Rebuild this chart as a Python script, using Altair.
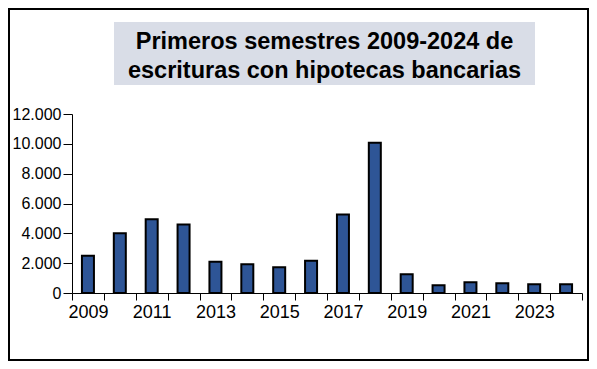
import altair as alt
import pandas as pd

years = ["2009", "2010", "2011", "2012", "2013", "2014", "2015", "2016",
         "2017", "2018", "2019", "2020", "2021", "2022", "2023", "2024"]
values = [2500, 4000, 4950, 4600, 2100, 1920, 1720, 2170,
          5270, 10080, 1250, 520, 720, 650, 580, 580]
y_ticks = [0, 2000, 4000, 6000, 8000, 10000, 12000]
title_lines = ["Primeros semestres 2009-2024 de", "escrituras con hipotecas bancarias"]

df = pd.DataFrame({"year": years, "value": values})
one = alt.Data(values=[{}])
FONT = "Liberation Sans"

bars = alt.Chart(df).mark_bar(size=12, color="#2E5596", stroke="black", strokeWidth=2).encode(
    x=alt.X("year:N", sort=years, title=None,
            scale=alt.Scale(paddingInner=0, paddingOuter=0),
            axis=alt.Axis(labelAngle=0, tickBand="extent", tickSize=7, tickColor="black",
                          domainColor="black", labelColor="black", labelFont=FONT,
                          labelFontSize=18, labelPadding=3, labelOverlap=False,
                          labelExpr="parseInt(datum.value) % 2 == 1 ? datum.label : ''")),
    y=alt.Y("value:Q", title=None,
            scale=alt.Scale(domain=[0, 12000], nice=False),
            axis=alt.Axis(values=y_ticks, grid=False, tickSize=9, tickColor="black",
                          domainColor="black", labelColor="black", labelFont=FONT,
                          labelFontSize=16, labelPadding=2,
                          labelExpr="replace(format(datum.value, ','), ',', '.')")),
)

title_box = alt.Chart(one).mark_rect(color="#D9DDE7").encode(
    x=alt.value(42), x2=alt.value(463), y=alt.value(-92), y2=alt.value(-29)
)
t1 = alt.Chart(one).mark_text(font=FONT, fontSize=23.5, fontWeight="bold", align="center",
                              baseline="alphabetic", color="black").encode(
    x=alt.value(252.5), y=alt.value(-65), text=alt.value(title_lines[0])
)
t2 = alt.Chart(one).mark_text(font=FONT, fontSize=23.5, fontWeight="bold", align="center",
                              baseline="alphabetic", color="black").encode(
    x=alt.value(252.5), y=alt.value(-36.5), text=alt.value(title_lines[1])
)
frame = alt.Chart(one).mark_rect(filled=False, stroke="black", strokeWidth=2).encode(
    x=alt.value(-63), x2=alt.value(516), y=alt.value(-105), y2=alt.value(246)
)

chart = alt.layer(title_box, t1, t2, bars, frame).properties(
    width=510, height=179,
    autosize=alt.AutoSizeParams(type="none"),
    padding={"left": 64, "top": 106, "right": 7, "bottom": 68},
    background="white",
).configure_view(stroke=None)

chart.save("out.html", embed_options={"renderer": "svg", "actions": False})
